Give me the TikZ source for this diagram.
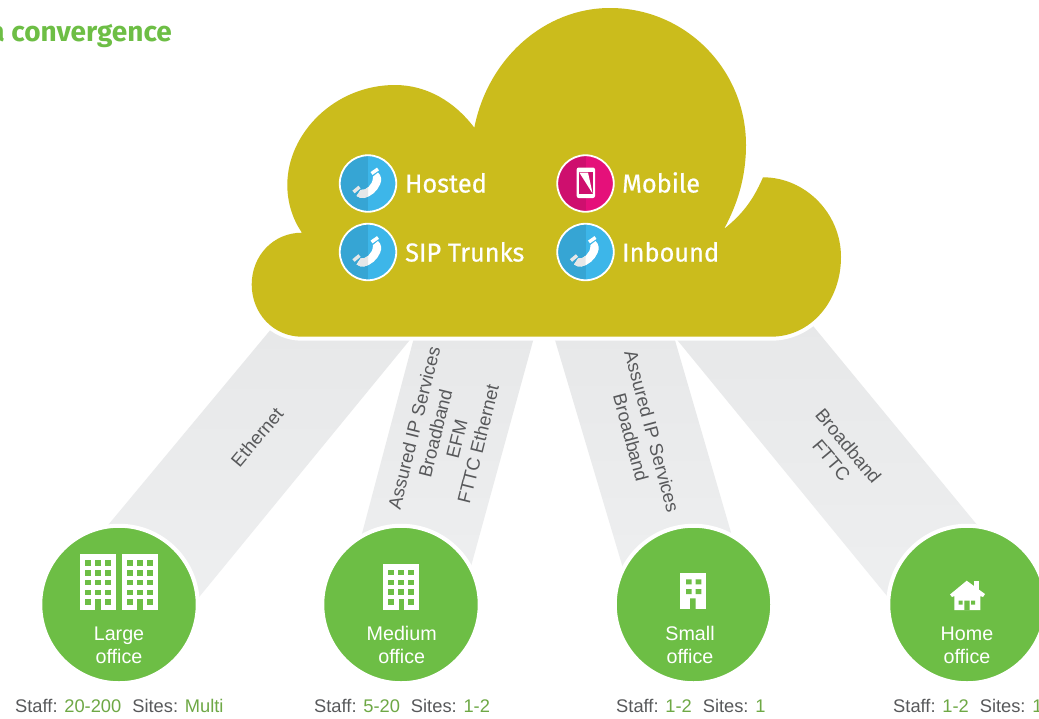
\documentclass[tikz,border=0pt]{standalone}
\usepackage{fontspec}
\setmainfont{Liberation Sans}
\newfontfamily\clearfont{Fira Sans}
\newfontfamily\servicefont[FakeBold=0.6,FakeStretch=0.975]{Fira Sans}
\definecolor{cloudc}{HTML}{CBBC1C}
\definecolor{greenc}{HTML}{6DBE45}
\definecolor{numc}{HTML}{6EA845}
\definecolor{grayc}{HTML}{58595B}
\definecolor{beamtop}{HTML}{E7E8E9}
\definecolor{beambot}{HTML}{EEEFF0}
\definecolor{bluedark}{HTML}{36A5D4}
\definecolor{bluelight}{HTML}{3DB6E9}
\definecolor{pinkdark}{HTML}{CE0F6E}
\definecolor{pinklight}{HTML}{E5107A}
\definecolor{phonegray}{HTML}{E6E7E8}
\tikzset{
  beam/.style={top color=beamtop,bottom color=beambot,draw=none},
  office/.style={circle,fill=greenc,draw=white,line width=4pt,minimum size=157.5pt,inner sep=0pt},
  iconblue/.style={circle,fill=bluelight,draw=white,line width=1.8pt,minimum size=56.5pt,inner sep=0pt,
    path picture={\fill[bluedark] (path picture bounding box.south west) rectangle (path picture bounding box.north);}},
  iconpink/.style={circle,fill=pinklight,draw=white,line width=1.8pt,minimum size=56.5pt,inner sep=0pt,
    path picture={\fill[pinkdark] (path picture bounding box.south west) rectangle (path picture bounding box.north);}},
  service/.style={anchor=base west,inner sep=0pt,text=white,font=\servicefont\fontsize{26}{26}\selectfont},
  beamtext/.style={align=center,inner sep=0pt,text=grayc,font=\fontsize{18.5}{22}\selectfont},
  officetext/.style={align=center,inner sep=0pt,text=white,font=\fontsize{19.7}{23}\selectfont},
  stafftext/.style={anchor=base west,inner sep=0pt,text=grayc,font=\fontsize{18.3}{20}\selectfont},
}
\newcommand{\phonebody}{(10,-11) .. controls (13.5,-8) and (14,-3) .. (12,1) .. controls (9,8) and (3,13) .. (-4,14.5) .. controls (-7,15) and (-9,14) .. (-11.5,12.5) -- (-7.5,6.5) .. controls (-4,6.5) and (-2,6) .. (0.5,3.5) .. controls (3,1) and (5,-2) .. (5,-7) -- cycle}
\newcommand{\phoneglyph}[2]{%
  \begin{scope}[shift={(#1,#2)}]
    \fill[white] \phonebody;
    \draw[white,line width=3.4pt] (3.5,-10) -- (10,-14.5);
    \begin{scope}
      \clip (-20,-20) rectangle (0,20);
      \fill[phonegray] \phonebody;
    \end{scope}
    \draw[phonegray,line width=3.4pt] (-14.5,8.5) -- (-8.5,3.5);
  \end{scope}}
\newcommand{\bldg}[5]{% x0, width, y0, y1, list of rows
  \fill[white] (#1,#3) rectangle ++(#2,#4-#3);
  \foreach \wy in {#5} {
    \foreach \wx in {0,1,2} {
      \fill[greenc] ({#1+5+\wx*10},\wy) rectangle ++(6,5.7);
    }
  }
  \foreach \wx in {0,2} {
    \fill[greenc] ({#1+5+\wx*10},#4-10.8) rectangle ++(6,5.7);
  }
  \fill[greenc] ({#1+15.3},#4-10.8) rectangle ({#1+20.7},#4);
}
\begin{document}
\begin{tikzpicture}[x=1pt,y=-1pt]
\clip (0,0) rectangle (1039,718);
\fill[white] (0,0) rectangle (1039,718);
% beams
\shade[beam] (79,560) -- (272,328) -- (418,330) -- (188.5,610) -- cycle;
\shade[beam] (355,560) -- (416,330) -- (536,330) -- (464.5,590) -- cycle;
\shade[beam] (629.5,590) -- (552,330) -- (672,330) -- (739,560) -- cycle;
\shade[beam] (898.5,610) -- (669,330) -- (804,315) -- (1006,560) -- cycle;
% cloud
\path[draw=white,line width=8pt,line join=round] (302,232.7) .. controls (273,232.7) and (251.7,256) .. (251.7,284.5) .. controls (251.7,313) and (273,336.7) .. (302,336.7) -- (771,336.7) .. controls (811,336.7) and (841,301) .. (841,257) .. controls (841,213) and (805,177.3) .. (763,177.3) .. controls (752,203) and (740,216) .. (724,229) .. controls (737,205) and (746,178) .. (746,145) .. controls (746,69) and (685,8) .. (610,8) .. controls (545,8) and (488,58) .. (474.3,127.7) .. controls (455,102) and (427,85) .. (395,85) .. controls (335,85) and (287.3,133) .. (287.3,185) .. controls (287.3,203) and (293,220) .. (302,232.7) -- cycle;
\fill[cloudc] (302,232.7) .. controls (273,232.7) and (251.7,256) .. (251.7,284.5) .. controls (251.7,313) and (273,336.7) .. (302,336.7) -- (771,336.7) .. controls (811,336.7) and (841,301) .. (841,257) .. controls (841,213) and (805,177.3) .. (763,177.3) .. controls (752,203) and (740,216) .. (724,229) .. controls (737,205) and (746,178) .. (746,145) .. controls (746,69) and (685,8) .. (610,8) .. controls (545,8) and (488,58) .. (474.3,127.7) .. controls (455,102) and (427,85) .. (395,85) .. controls (335,85) and (287.3,133) .. (287.3,185) .. controls (287.3,203) and (293,220) .. (302,232.7) -- cycle;
% title
\node[anchor=base east,inner sep=0pt,text=greenc,font=\clearfont\bfseries\fontsize{28}{28}\selectfont] (title) at (172,41) {a convergence};
% service icons
\node[iconblue] (hostedicon) at (368,183.5) {};
\node[iconblue] (sipicon) at (368,252) {};
\node[iconpink] (mobileicon) at (585.5,183.5) {};
\node[iconblue] (inboundicon) at (585.5,252) {};
\phoneglyph{368}{183.5}
\phoneglyph{368}{252}
\phoneglyph{585.5}{252}
\fill[white,rounded corners=2pt] (576.7,167.5) rectangle (595,198);
\fill[pinkdark] (578.8,172) rectangle (592.9,194);
\fill[white] (579.3,172.5) -- (588,172.5) -- (592.6,193.5) -- cycle;
\node[service] (hosted) at (405,192.5) {Hosted};
\node[service] (sip) at (405,261.5) {SIP Trunks};
\node[service] (mobile) at (622,192.5) {Mobile};
\node[service] (inbound) at (622,261.5) {Inbound};
% beam labels
\node[beamtext,rotate=50] (t1) at (257,437) {Ethernet};
\node[beamtext,rotate=76] (t2) at (446,436) {Assured IP Services\\Broadband\\EFM\\FTTC Ethernet};
\node[beamtext,rotate=-75] (t3) at (641.5,434.5) {Assured IP Services\\Broadband};
\node[beamtext,rotate=-50] (t4) at (840,453) {Broadband\\FTTC};
% offices
\node[office] (large) at (119,604.5) {};
\node[office] (medium) at (401,604.5) {};
\node[office] (small) at (693.5,604.5) {};
\node[office] (home) at (967,604.5) {};
\bldg{80}{36}{554}{610}{560,570,579.7,589.7}
\bldg{122}{36}{554}{610}{560,570,579.7,589.7}
\bldg{383.3}{36}{564}{610}{569.7,579.5,589.2}
% small
\fill[white] (680,573) rectangle (706,609);
\fill[greenc] (686,579.3) rectangle ++(5.6,5) (695.7,579.3) rectangle ++(5.6,5) (686,589) rectangle ++(5.6,5) (695.7,589) rectangle ++(5.6,5) (690,598.3) rectangle (695.6,609);
% home
\fill[white] (974,581.3) rectangle (978.7,592);
\fill[white] (966.7,580.7) -- (985,594) -- (983,597) -- (980.3,596) -- (980.3,610) -- (954.3,610) -- (954.3,596) -- (952,597) -- (950,594.5) -- cycle;
\fill[greenc] (958.5,600.5) rectangle ++(4,4) (971,600.5) rectangle ++(4,4) (964.3,600.5) rectangle (969.7,610);
\node[officetext] (lt) at (119,645) {Large\\office};
\node[officetext] (mt) at (401.7,645) {Medium\\office};
\node[officetext] (st) at (690,645) {Small\\office};
\node[officetext] (ht) at (967,645) {Home\\office};
% staff lines
\node[stafftext] (s1) at (15,712.6) {Staff: \textcolor{numc}{20-200}\hspace{0.6em}Sites: \textcolor{numc}{Multi}};
\node[stafftext] (s2) at (314,712.6) {Staff: \textcolor{numc}{5-20}\hspace{0.6em}Sites: \textcolor{numc}{1-2}};
\node[stafftext] (s3) at (616,712.6) {Staff: \textcolor{numc}{1-2}\hspace{0.6em}Sites: \textcolor{numc}{1}};
\node[stafftext] (s4) at (893,712.6) {Staff: \textcolor{numc}{1-2}\hspace{0.6em}Sites: \textcolor{numc}{1}};
\end{tikzpicture}
\end{document}
